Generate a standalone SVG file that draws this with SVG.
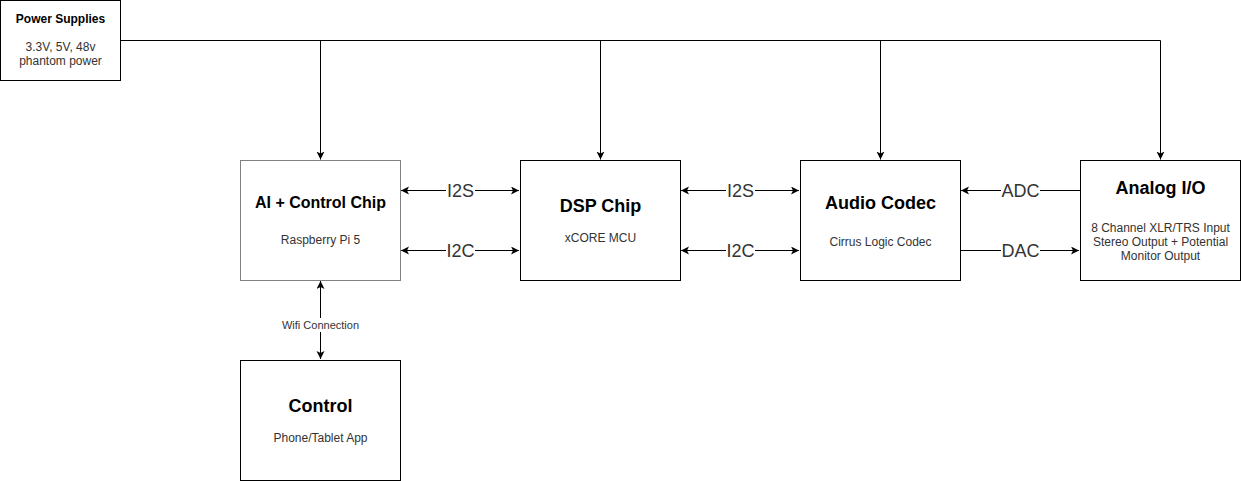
<svg xmlns="http://www.w3.org/2000/svg" width="1241" height="481" viewBox="0 0 1241 481">
<style>
.box{fill:#fff;stroke:#000;stroke-width:1}
.gbox{fill:#fff;stroke:#808080;stroke-width:1}
.t{font-family:"Liberation Sans",Arial,sans-serif;text-anchor:middle;fill:#000}
.h{font-size:16px;font-weight:bold}
.hl{font-size:18px;font-weight:bold}
.s{font-size:12px;fill:#333}
.ps{font-size:12px;font-weight:bold}
.lbl{font-size:18px;fill:#333}
.w{font-size:11px;fill:#333}
.c{fill:none;stroke:#000;stroke-width:1}
</style>
<defs>
<marker id="ae" markerUnits="userSpaceOnUse" markerWidth="10" markerHeight="10" refX="8" refY="4" orient="auto"><path d="M0,0 L8,4 L0,8 L2,4 z" fill="#000"/></marker>
<marker id="as" markerUnits="userSpaceOnUse" markerWidth="10" markerHeight="10" refX="8" refY="4" orient="auto-start-reverse"><path d="M0,0 L8,4 L0,8 L2,4 z" fill="#000"/></marker>
</defs>
<rect width="1241" height="481" fill="#fff"/>
<g id="connectors">
<path class="c" d="M120.5,40.5 H1160.5"/>
<path class="c" d="M320.5,40.5 V159.5" marker-end="url(#ae)"/>
<path class="c" d="M600.5,40.5 V159.5" marker-end="url(#ae)"/>
<path class="c" d="M880.5,40.5 V159.5" marker-end="url(#ae)"/>
<path class="c" d="M1160.5,40.5 V159.5" marker-end="url(#ae)"/>
<path class="c" d="M401,190.5 H519" marker-start="url(#as)" marker-end="url(#ae)"/>
<path class="c" d="M401,250.5 H519" marker-start="url(#as)" marker-end="url(#ae)"/>
<path class="c" d="M681,190.5 H799" marker-start="url(#as)" marker-end="url(#ae)"/>
<path class="c" d="M681,250.5 H799" marker-start="url(#as)" marker-end="url(#ae)"/>
<path class="c" d="M1080,190.5 H961" marker-end="url(#ae)"/>
<path class="c" d="M960,250.5 H1079" marker-end="url(#ae)"/>
<path class="c" d="M320.5,281 V359" marker-start="url(#as)" marker-end="url(#ae)"/>
<rect x="446" y="180" width="29" height="20" fill="#fff"/>
<text class="t lbl" x="460.5" y="196.5">I2S</text>
<rect x="446" y="240" width="29" height="20" fill="#fff"/>
<text class="t lbl" x="460.5" y="256.5">I2C</text>
<rect x="726" y="180" width="29" height="20" fill="#fff"/>
<text class="t lbl" x="740.5" y="196.5">I2S</text>
<rect x="726" y="240" width="29" height="20" fill="#fff"/>
<text class="t lbl" x="740.5" y="256.5">I2C</text>
<rect x="1001" y="180" width="39" height="20" fill="#fff"/>
<text class="t lbl" x="1020.5" y="196.5">ADC</text>
<rect x="1001" y="240" width="39" height="20" fill="#fff"/>
<text class="t lbl" x="1020.5" y="256.5">DAC</text>
<rect x="278" y="318" width="85" height="14" fill="#fff"/>
<text class="t w" x="320.5" y="329">Wifi Connection</text>
</g>
<g id="power">
<rect class="box" x="0.5" y="0.5" width="120" height="80"/>
<text class="t ps" x="60.5" y="23">Power Supplies</text>
<text class="t s" x="60.5" y="51">3.3V, 5V, 48v</text>
<text class="t s" x="60.5" y="65">phantom power</text>
</g>
<g id="ai">
<rect class="gbox" x="240.5" y="160.5" width="160" height="120"/>
<text class="t h" x="320.5" y="208">AI + Control Chip</text>
<text class="t s" x="320.5" y="244">Raspberry Pi 5</text>
</g>
<g id="dsp">
<rect class="box" x="520.5" y="160.5" width="160" height="120"/>
<text class="t hl" x="600.5" y="211.5">DSP Chip</text>
<text class="t s" x="600.5" y="242">xCORE MCU</text>
</g>
<g id="codec">
<rect class="box" x="800.5" y="160.5" width="160" height="120"/>
<text class="t hl" x="880.5" y="208.5">Audio Codec</text>
<text class="t s" x="880.5" y="246">Cirrus Logic Codec</text>
</g>
<g id="analog">
<rect class="box" x="1080.5" y="160.5" width="160" height="120"/>
<text class="t hl" x="1160.5" y="193.5">Analog I/O</text>
<text class="t s" x="1160.5" y="232">8 Channel XLR/TRS Input</text>
<text class="t s" x="1160.5" y="246">Stereo Output + Potential</text>
<text class="t s" x="1160.5" y="260">Monitor Output</text>
</g>
<g id="control">
<rect class="box" x="240.5" y="360.5" width="160" height="120"/>
<text class="t hl" x="320.5" y="411.5">Control</text>
<text class="t s" x="320.5" y="442">Phone/Tablet App</text>
</g>
</svg>
